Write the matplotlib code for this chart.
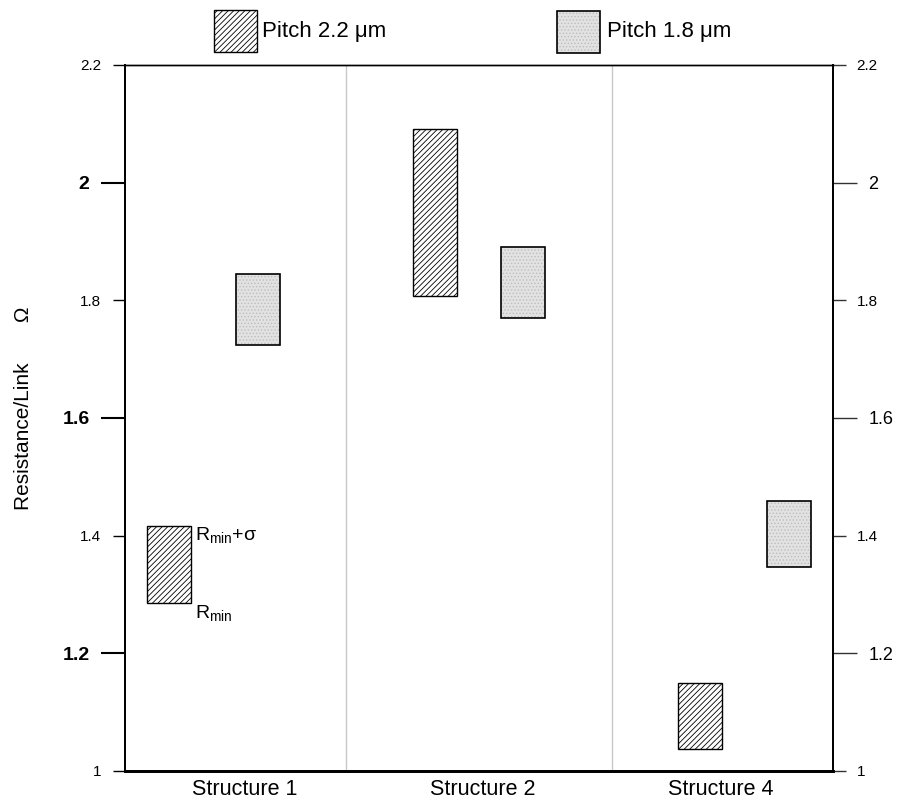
import numpy as np
import matplotlib.pyplot as plt
from matplotlib.patches import Rectangle

plt.rcParams['font.family'] = ['Liberation Sans', 'DejaVu Sans']
plt.rcParams['mathtext.fontset'] = 'custom'
plt.rcParams['mathtext.rm'] = 'Liberation Sans'
plt.rcParams['hatch.linewidth'] = 0.6

# link resistance boxes, lower edge = Rmin, upper edge = Rmin + sigma
structures = ['Structure 1', 'Structure 2', 'Structure 4']
rmin_22 = [1.285, 1.807, 1.037]
rsig_22 = [1.417, 2.092, 1.150]
rmin_18 = [1.724, 1.770, 1.347]
rsig_18 = [1.845, 1.890, 1.459]

# where the boxes sit inside each structure column
box_x_22 = [0.684, 1.800, 2.913]
box_x_18 = [1.058, 2.171, 3.286]
box_w = 0.185
col_sep = [1.427, 2.542]

fig = plt.figure(figsize=(9.02, 8.06), dpi=100)
ax = fig.add_axes([125/902, 1 - 771/806, 708/902, 706/806])
ax.set_xlim(0.5, 3.47)
ax.set_ylim(1.0, 2.2)

for xs in col_sep:
    ax.axvline(xs, color='#c8c8c8', lw=1.0, zorder=0)

# pitch 2.2 um: hatched
h22 = np.array(rsig_22) - np.array(rmin_22)
ax.bar(box_x_22, h22, bottom=rmin_22, width=box_w, facecolor='white',
       edgecolor='black', hatch='//////', lw=1.0, zorder=3)

# pitch 1.8 um: light dotted gray
h18 = np.array(rsig_18) - np.array(rmin_18)
ax.bar(box_x_18, h18, bottom=rmin_18, width=box_w, facecolor='#e2e2e2',
       edgecolor='#bdbdbd', hatch='.....', lw=0, zorder=3)
ax.bar(box_x_18, h18, bottom=rmin_18, width=box_w, facecolor='none',
       edgecolor='black', lw=1.2, zorder=4)

# Rmin / Rmin+sigma markers on the first box
xr = box_x_22[0] + box_w / 2
ax.annotate('R$_{\\mathrm{min}}$+σ', (xr, rsig_22[0]), xytext=(3, 0),
            textcoords='offset points', ha='left', va='top', fontsize=14)
ax.annotate('R$_{\\mathrm{min}}$', (xr, rmin_22[0]), xytext=(3, 0),
            textcoords='offset points', ha='left', va='top', fontsize=14)

# category labels
ax.set_xticks([1, 2, 3])
ax.set_xticklabels(structures, fontsize=15.5)
ax.tick_params(axis='x', length=0, pad=6)

major = [1.2, 1.6, 2.0]
minor = [1.0, 1.4, 1.8, 2.2]

ax2 = ax.twinx()
ax2.set_ylim(ax.get_ylim())
for a in (ax, ax2):
    a.set_yticks(major)
    a.set_yticks(minor, minor=True)
    a.set_yticklabels(['1.2', '1.6', '2'])
    a.set_yticklabels(['1', '1.4', '1.8', '2.2'], minor=True)
    a.tick_params(axis='y', which='major', length=17.5, width=1.5, pad=8,
                  labelsize=14)
    a.tick_params(axis='y', which='minor', length=9, width=1.0, pad=8,
                  labelsize=11)
for lab in ax.get_yticklabels():
    lab.set_fontweight('bold')
ax2.tick_params(axis='y', which='major', labelsize=13)
ax2.tick_params(axis='y', which='both', color='#333333', width=1.0)

for a in (ax, ax2):
    a.spines['bottom'].set_linewidth(2.0)
    a.spines['top'].set_linewidth(1.0)
    a.spines['left'].set_linewidth(1.3)
    a.spines['right'].set_linewidth(1.3)

fig.text(24/902, 1 - 408/806, 'Resistance/Link       Ω', rotation=90,
         ha='center', va='center', fontsize=15)

# legend boxes above the frame
fig.add_artist(Rectangle((214/902, 1 - 52/806), 43/902, 42/806,
                         transform=fig.transFigure, facecolor='white',
                         edgecolor='black', hatch='//////', lw=1.0))
fig.add_artist(Rectangle((557/902, 1 - 53/806), 43/902, 42/806,
                         transform=fig.transFigure, facecolor='#e2e2e2',
                         edgecolor='#bdbdbd', hatch='.....', lw=0))
fig.add_artist(Rectangle((557/902, 1 - 53/806), 43/902, 42/806,
                         transform=fig.transFigure, facecolor='none',
                         edgecolor='black', lw=1.2))
fig.text(262/902, 1 - 32/806, 'Pitch 2.2 μm', ha='left', va='center',
         fontsize=16)
fig.text(607/902, 1 - 32/806, 'Pitch 1.8 μm', ha='left', va='center',
         fontsize=16)

fig.savefig('out.png', dpi=100)
